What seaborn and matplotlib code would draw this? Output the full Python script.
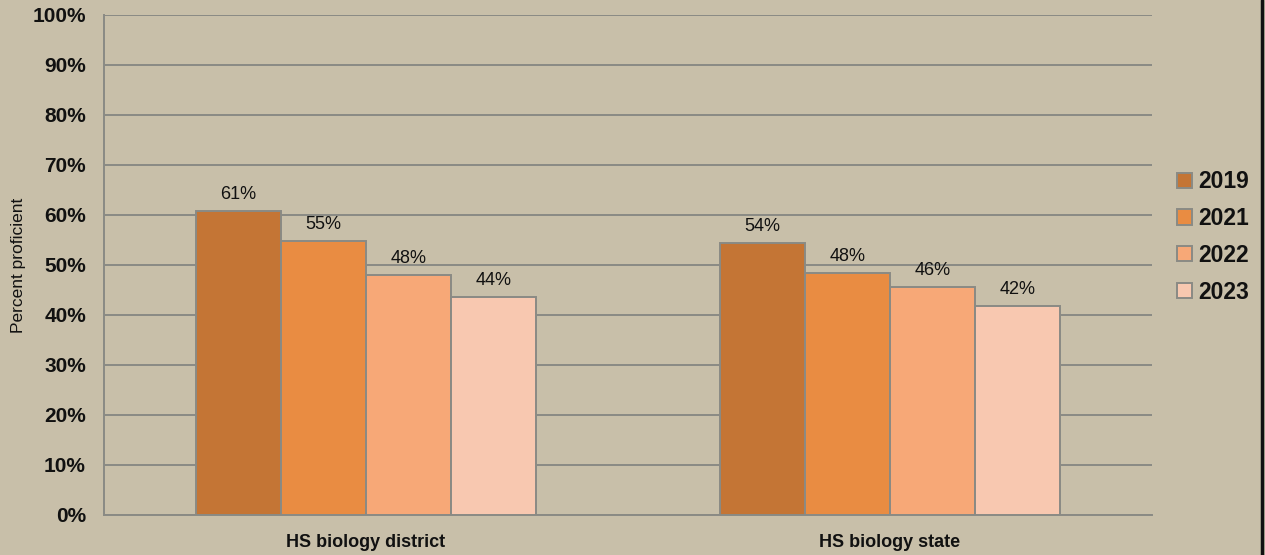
import pandas as pd
import numpy as np
import matplotlib
matplotlib.use("Agg")
import matplotlib.pyplot as plt
import seaborn as sns
from matplotlib.ticker import PercentFormatter
from matplotlib.lines import Line2D

# values (percent proficient)
categories = ["HS biology district", "HS biology state"]
years = ["2019", "2021", "2022", "2023"]
vals_2019 = [60.8, 54.4]
vals_2021 = [54.8, 48.4]
vals_2022 = [48.0, 45.6]
vals_2023 = [43.6, 41.8]
labels = {"2019": ["61%", "54%"], "2021": ["55%", "48%"],
          "2022": ["48%", "46%"], "2023": ["44%", "42%"]}

colors = ["#C47535", "#E98C42", "#F7A877", "#F8C8B0"]
bg = "#C8BFA9"
grid_col = "#8A8A84"

df = pd.DataFrame({
    "category": categories * 4,
    "year": [y for y in years for _ in categories],
    "value": vals_2019 + vals_2021 + vals_2022 + vals_2023,
})

sns.set_style("white")
plt.rcParams["font.family"] = ["Liberation Sans", "DejaVu Sans"]

fig = plt.figure(figsize=(12.65, 5.55), dpi=100, facecolor=bg)
ax = fig.add_axes([104 / 1265, 40 / 555, 1048 / 1265, 500 / 555])
ax.set_facecolor(bg)

sns.barplot(data=df, x="category", y="value", hue="year", palette=colors,
            width=0.65, gap=0, edgecolor=grid_col, linewidth=1.4,
            saturation=1, ax=ax, zorder=3, legend=True)

for cont, yr in zip(ax.containers, years):
    ax.bar_label(cont, labels=labels[yr], padding=6, fontsize=13,
                 color="#111111")

ax.set_ylim(0, 100)
ax.set_xlim(-0.5, 1.5)
ax.set_yticks(np.arange(0, 101, 10))
ax.yaxis.set_major_formatter(PercentFormatter(decimals=0))
ax.yaxis.grid(True, color=grid_col, linewidth=1.4, zorder=0)
ax.set_axisbelow(True)
ax.tick_params(axis="y", length=0, pad=13, labelsize=15)
ax.tick_params(axis="x", length=0, pad=14, labelsize=13)
for t in ax.get_yticklabels() + ax.get_xticklabels():
    t.set_fontweight("bold")
    t.set_color("#111111")
ax.set_xlabel("")
ax.set_ylabel("Percent proficient", fontsize=12.5, color="#111111")
ax.yaxis.set_label_coords(-78 / 1048, 0.5)

for s in ["top", "right"]:
    ax.spines[s].set_visible(False)
for s in ["left", "bottom"]:
    ax.spines[s].set_color(grid_col)
    ax.spines[s].set_linewidth(1.4)

handles, lbls = ax.get_legend_handles_labels()
ax.get_legend().remove()
leg = fig.legend(handles, lbls, loc="center left",
                 bbox_to_anchor=(1156 / 1265, 1 - 237 / 555),
                 frameon=False, handlelength=0.65, handleheight=0.65,
                 handletextpad=0.3, labelspacing=0.6,
                 prop={"size": 16.5, "weight": "bold"})
for t in leg.get_texts():
    t.set_color("#111111")

# dark border on the right edge
fig.add_artist(Line2D([1262 / 1265, 1262 / 1265], [0, 1], color="#111111",
                      linewidth=2.5, transform=fig.transFigure))

fig.savefig("out.png", dpi=100, facecolor=bg)
